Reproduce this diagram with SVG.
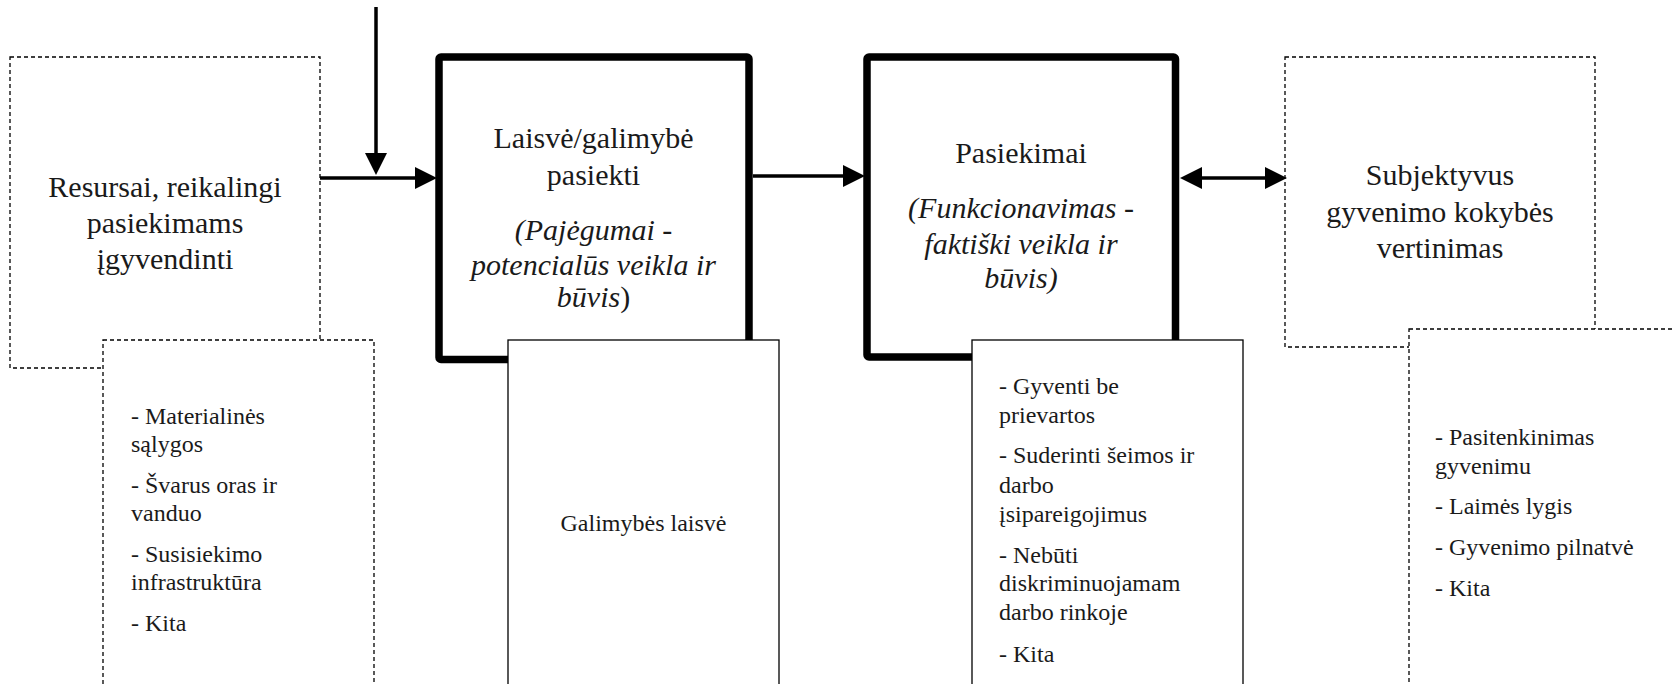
<svg xmlns="http://www.w3.org/2000/svg" width="1675" height="684" viewBox="0 0 1675 684">
<style>
.dash{fill:#fff;stroke:#000;stroke-width:1.3;stroke-dasharray:4 3}
.thick{fill:#fff;stroke:#000;stroke-width:7.5;stroke-linejoin:round}
.thin{fill:#fff;stroke:#000;stroke-width:1.3}
.conn{stroke:#000;stroke-width:3.5;fill:none}
.h{font-family:"Liberation Serif",serif;font-size:30px;fill:#1a1a1a;text-anchor:middle}
.hi{font-style:italic}
.l{font-family:"Liberation Serif",serif;font-size:24px;fill:#1a1a1a}
.c{text-anchor:middle}
</style>
<defs>
<marker id="ah" viewBox="0 0 22 22" markerUnits="userSpaceOnUse" markerWidth="22" markerHeight="22" refX="11" refY="11" orient="auto-start-reverse">
<path d="M0,0 L22,11 L0,22 z" fill="#000"/>
</marker>
</defs>
<rect width="1675" height="684" fill="#fff"/>
<g id="resursai">
<rect class="dash" x="10" y="57" width="310" height="311"/>
<text class="h" x="165"><tspan x="165" y="197">Resursai, reikalingi</tspan><tspan x="165" y="233">pasiekimams</tspan><tspan x="165" y="269">įgyvendinti</tspan></text>
</g>
<g id="resursai-list">
<rect class="dash" x="103" y="340" width="271" height="370"/>
<text class="l"><tspan x="131" y="424">- Materialinės</tspan><tspan x="131" y="452">sąlygos</tspan><tspan x="131" y="493">- Švarus oras ir</tspan><tspan x="131" y="521">vanduo</tspan><tspan x="131" y="562">- Susisiekimo</tspan><tspan x="131" y="590">infrastruktūra</tspan><tspan x="131" y="631">- Kita</tspan></text>
</g>
<g id="laisve">
<rect class="thick" x="439" y="57" width="310" height="302.5" rx="2"/>
<text class="h"><tspan x="593.5" y="148">Laisvė/galimybė</tspan><tspan x="593.5" y="185">pasiekti</tspan><tspan x="593.5" y="240" class="hi">(Pajėgumai -</tspan><tspan x="593.5" y="275" class="hi">potencialūs veikla ir</tspan><tspan x="593.5" y="307"><tspan class="hi">būvis</tspan>)</tspan></text>
</g>
<g id="galimybes">
<rect class="thin" x="508" y="340" width="271" height="370"/>
<text class="l c" x="643.5" y="531">Galimybės laisvė</text>
</g>
<g id="pasiekimai">
<rect class="thick" x="867" y="57" width="308.5" height="300" rx="2"/>
<text class="h"><tspan x="1021" y="163">Pasiekimai</tspan><tspan x="1021" y="218" class="hi">(Funkcionavimas -</tspan><tspan x="1021" y="254" class="hi">faktiški veikla ir</tspan><tspan x="1021" y="288" class="hi">būvis)</tspan></text>
</g>
<g id="pasiekimai-list">
<rect class="thin" x="972" y="340" width="271" height="370"/>
<text class="l"><tspan x="999" y="394">- Gyventi be</tspan><tspan x="999" y="423">prievartos</tspan><tspan x="999" y="463">- Suderinti šeimos ir</tspan><tspan x="999" y="493">darbo</tspan><tspan x="999" y="522">įsipareigojimus</tspan><tspan x="999" y="563">- Nebūti</tspan><tspan x="999" y="591">diskriminuojamam</tspan><tspan x="999" y="620">darbo rinkoje</tspan><tspan x="999" y="662">- Kita</tspan></text>
</g>
<g id="subjektyvus">
<rect class="dash" x="1285" y="57" width="310" height="290"/>
<text class="h"><tspan x="1440" y="185">Subjektyvus</tspan><tspan x="1440" y="222">gyvenimo kokybės</tspan><tspan x="1440" y="258">vertinimas</tspan></text>
</g>
<g id="subjektyvus-list">
<rect class="dash" x="1409" y="329" width="290" height="380"/>
<text class="l"><tspan x="1435" y="445">- Pasitenkinimas</tspan><tspan x="1435" y="474">gyvenimu</tspan><tspan x="1435" y="514">- Laimės lygis</tspan><tspan x="1435" y="555">- Gyvenimo pilnatvė</tspan><tspan x="1435" y="596">- Kita</tspan></text>
</g>
<g id="connectors">
<line class="conn" x1="376" y1="7" x2="376" y2="164" marker-end="url(#ah)"/>
<line class="conn" x1="320" y1="178" x2="426" y2="178" marker-end="url(#ah)"/>
<line class="conn" x1="753" y1="176" x2="854" y2="176" marker-end="url(#ah)"/>
<line class="conn" x1="1191" y1="178" x2="1276" y2="178" marker-start="url(#ah)" marker-end="url(#ah)"/>
</g>
</svg>
